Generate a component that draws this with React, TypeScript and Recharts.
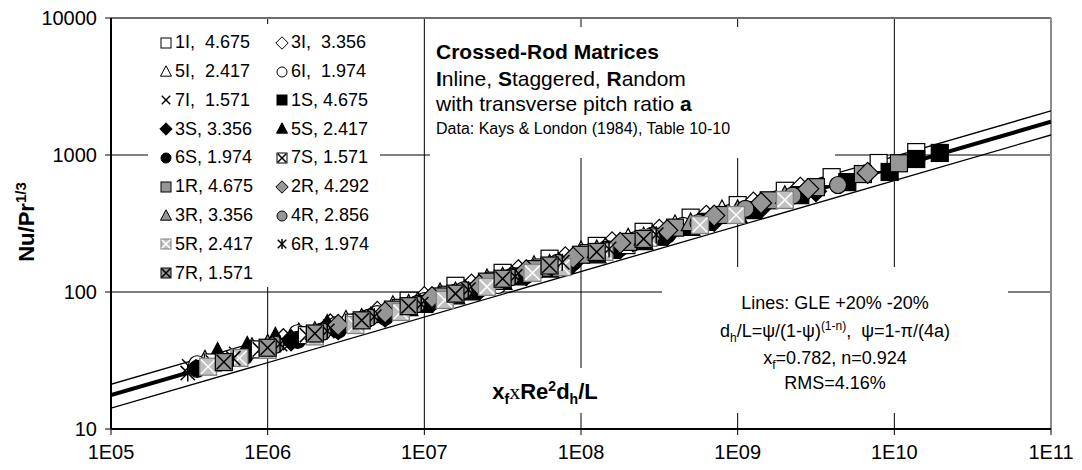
import React from "react";
import {
  ScatterChart,
  Scatter,
  XAxis,
  YAxis,
  CartesianGrid,
  ReferenceLine,
} from "recharts";

const FONT = '"Liberation Sans", Arial, sans-serif';
const GRAY = "#969696";
const LIGHT = "#c0c0c0";

const X_TICKS = [1e5, 1e6, 1e7, 1e8, 1e9, 1e10, 1e11];
const Y_TICKS = [10, 100, 1000, 10000];

// GLE curve and the +20% / -20% band, read at both ends of the x axis
const LINE_X = [1e5, 1e11];
const GLE_Y = [17.7, 1750];
const PLUS_Y = [21.2, 2100];
const MINUS_Y = [14.2, 1400];

// Inline
const x1I = [7.94e6, 1.58e7, 3.16e7, 6.3e7, 1.26e8, 2.51e8, 5.01e8, 1.0e9, 2.0e9, 3.98e9, 7.94e9, 1.38e10];
const y1I = [86.4, 111, 138, 175, 217, 275, 349, 431, 548, 689, 874, 1050];
const x3I = [1.26e6, 2.51e6, 5.01e6, 1.0e7, 2.0e7, 3.98e7, 7.94e7, 1.58e8, 3.16e8, 6.3e8, 1.26e9, 2.51e9];
const y3I = [45.2, 57.9, 71.6, 91.7, 113, 144, 179, 230, 284, 360, 449, 576];
const x5I = [3.98e5, 7.94e5, 1.58e6, 3.16e6, 6.3e6, 1.26e7, 2.51e7, 5.01e7, 1.0e8, 2.0e8, 3.98e8, 7.94e8];
const y5I = [31.4, 38.8, 49.7, 61.4, 78.7, 97.2, 123, 154, 197, 244, 306, 393];
const x6I = [3.55e5, 7.94e5, 1.55e6, 2.75e6, 5.01e6, 1.0e7, 1.58e7, 2.95e7, 5.62e7, 1.12e8, 2.24e8, 4.47e8];
const y6I = [29.7, 38.1, 50, 57.4, 69, 85.9, 99.2, 112.5, 151, 192, 239, 304];
const x7I = [3.16e5, 6.3e5, 1.26e6, 2.51e6, 5.01e6, 1.0e7, 2.0e7, 3.98e7, 7.94e7, 1.58e8, 3.16e8];
const y7I = [28.6, 35.3, 43.6, 55.8, 69, 88.4, 109, 139, 173, 219, 274];

// Staggered
const x1S = [1.0e7, 2.0e7, 3.98e7, 7.94e7, 1.58e8, 3.16e8, 6.3e8, 1.26e9, 2.51e9, 5.01e9, 9.33e9, 1.38e10, 1.95e10];
const y1S = [81.9, 101, 130, 158, 203, 253, 325, 396, 509, 634, 752, 935, 1035];
const x3S = [1.41e6, 2.82e6, 5.62e6, 1.12e7, 2.24e7, 4.47e7, 8.91e7, 1.78e8, 3.55e8, 7.08e8, 1.41e9, 3.16e9];
const y3S = [44.4, 53.7, 66.2, 84.2, 104, 133, 164, 209, 260, 331, 412, 544];
const x5S = [4.79e5, 7.41e5, 1.12e6, 2.4e6, 3.98e6, 7.94e6, 1.58e7, 3.16e7, 6.3e7, 1.26e8, 2.51e8, 5.01e8, 1.0e9];
const y5S = [35.9, 39.7, 46.2, 57.4, 63.3, 75.8, 92.5, 118, 145, 184, 230, 292, 363];
const x6S = [3.55e5, 7.08e5, 1.55e6, 2.82e6, 5.62e6, 1.12e7, 2.24e7, 4.47e7, 8.91e7, 1.78e8, 3.55e8];
const y6S = [27.5, 33.9, 44.7, 53.2, 66.2, 85.0, 105, 133, 166, 211, 263];
const x7S = [4.47e5, 8.91e5, 1.78e6, 3.55e6, 7.08e6, 1.41e7, 2.82e7, 5.62e7, 1.12e8, 1.95e8];
const y7S = [30.6, 38.1, 48.4, 59.7, 76.6, 95.5, 121, 151, 192, 220];

// Random
const x1R = [6.3e6, 1.26e7, 2.51e7, 5.01e7, 1.0e8, 2.0e8, 3.98e8, 7.94e8, 1.58e9, 3.16e9, 6.3e9, 1.07e10];
const y1R = [74.4, 92.8, 119, 147, 187, 232, 295, 365, 467, 583, 726, 870];
const x2R = [2.82e6, 5.62e6, 1.12e7, 2.24e7, 4.47e7, 8.91e7, 1.78e8, 3.55e8, 7.08e8, 1.41e9, 2.82e9, 6.76e9];
const y2R = [57.5, 71.0, 91.8, 112, 144, 178, 228, 282, 361, 446, 566, 740];
const x3R = [1.0e6, 2.0e6, 3.98e6, 7.94e6, 1.58e7, 3.16e7, 6.3e7, 1.26e8, 2.51e8, 5.01e8, 1.0e9, 2.0e9];
const y3R = [41.1, 50.8, 63.3, 80.4, 99.2, 127, 157, 201, 249, 316, 394, 500];
const x4R = [1.12e6, 2.24e6, 4.47e6, 8.91e6, 1.78e7, 3.55e7, 7.08e7, 1.41e8, 2.82e8, 5.62e8, 1.12e9, 2.24e9, 4.37e9];
const y4R = [41.2, 51.3, 65.1, 81.2, 103, 128, 163, 201, 256, 319, 405, 505, 604];
const x5R = [4.17e5, 6.6e5, 1.0e6, 2.0e6, 3.63e6, 7.08e6, 1.35e7, 2.51e7, 4.9e7, 7.59e7, 1.41e8, 2.69e8, 5.75e8, 9.77e8, 2.0e9];
const y5R = [28.5, 33.0, 37.8, 47.4, 57.4, 71.5, 87.5, 109, 138, 152, 196, 248, 308, 365, 470];
const x6R = [3.09e5, 6.03e5, 1.2e6, 2.4e6, 4.79e6, 9.55e6, 1.91e7, 3.8e7, 7.59e7, 1.51e8, 3.02e8];
const y6R = [25.6, 32.8, 41.7, 51.9, 66.0, 81.4, 104, 130, 165, 206, 262];
const x7R = [5.25e5, 1.0e6, 2.0e6, 3.98e6, 7.94e6, 1.58e7, 3.16e7, 6.3e7, 1.26e8, 2.51e8];
const y7R = [30.8, 39.2, 49.8, 62.1, 78.8, 97.3, 125, 156, 196, 244];

type Kind = "square" | "diamond" | "triangle" | "circle" | "x" | "sqx" | "star";

interface SeriesDef {
  label: string;
  kind: Kind;
  fill: string;
  stroke: string;
  cross?: string;
  xs: number[];
  ys: number[];
}

const SERIES: SeriesDef[] = [
  { label: "1I,  4.675", kind: "square", fill: "#fff", stroke: "#000", xs: x1I, ys: y1I },
  { label: "3I,  3.356", kind: "diamond", fill: "#fff", stroke: "#000", xs: x3I, ys: y3I },
  { label: "5I,  2.417", kind: "triangle", fill: "#fff", stroke: "#000", xs: x5I, ys: y5I },
  { label: "6I,  1.974", kind: "circle", fill: "#fff", stroke: "#000", xs: x6I, ys: y6I },
  { label: "7I,  1.571", kind: "x", fill: "none", stroke: "#000", xs: x7I, ys: y7I },
  { label: "1S, 4.675", kind: "square", fill: "#000", stroke: "#000", xs: x1S, ys: y1S },
  { label: "3S, 3.356", kind: "diamond", fill: "#000", stroke: "#000", xs: x3S, ys: y3S },
  { label: "5S, 2.417", kind: "triangle", fill: "#000", stroke: "#000", xs: x5S, ys: y5S },
  { label: "6S, 1.974", kind: "circle", fill: "#000", stroke: "#000", xs: x6S, ys: y6S },
  { label: "7S, 1.571", kind: "sqx", fill: "#fff", stroke: "#000", cross: "#000", xs: x7S, ys: y7S },
  { label: "1R, 4.675", kind: "square", fill: GRAY, stroke: "#000", xs: x1R, ys: y1R },
  { label: "2R, 4.292", kind: "diamond", fill: GRAY, stroke: "#000", xs: x2R, ys: y2R },
  { label: "3R, 3.356", kind: "triangle", fill: GRAY, stroke: "#000", xs: x3R, ys: y3R },
  { label: "4R, 2.856", kind: "circle", fill: GRAY, stroke: "#000", xs: x4R, ys: y4R },
  { label: "5R, 2.417", kind: "sqx", fill: LIGHT, stroke: "#808080", cross: "#fff", xs: x5R, ys: y5R },
  { label: "6R, 1.974", kind: "star", fill: "none", stroke: "#000", xs: x6R, ys: y6R },
  { label: "7R, 1.571", kind: "sqx", fill: GRAY, stroke: "#000", cross: "#000", xs: x7R, ys: y7R },
];

const toPoints = (xs: number[], ys: number[]) => xs.map((x, i) => ({ x, y: ys[i] }));

interface MarkProps {
  kind: Kind;
  cx: number;
  cy: number;
  s: number;
  fill: string;
  stroke: string;
  cross?: string;
  sw?: number;
}

function Mark({ kind, cx, cy, s, fill, stroke, cross, sw = 1.2 }: MarkProps) {
  const h = s / 2;
  if (kind === "square") {
    return <rect x={cx - h} y={cy - h} width={s} height={s} fill={fill} stroke={stroke} strokeWidth={sw} />;
  }
  if (kind === "diamond") {
    const r = s * 0.62;
    return (
      <polygon
        points={`${cx},${cy - r} ${cx + r},${cy} ${cx},${cy + r} ${cx - r},${cy}`}
        fill={fill}
        stroke={stroke}
        strokeWidth={sw}
      />
    );
  }
  if (kind === "triangle") {
    const w = s * 1.1;
    const t = s * 0.62;
    const b = s * 0.42;
    return (
      <polygon
        points={`${cx},${cy - t} ${cx + w / 2},${cy + b} ${cx - w / 2},${cy + b}`}
        fill={fill}
        stroke={stroke}
        strokeWidth={sw}
      />
    );
  }
  if (kind === "circle") {
    return <circle cx={cx} cy={cy} r={h} fill={fill} stroke={stroke} strokeWidth={sw} />;
  }
  const k = h * 0.85;
  const xLines = (
    <>
      <line x1={cx - k} y1={cy - k} x2={cx + k} y2={cy + k} stroke={cross || stroke} strokeWidth={1.5} />
      <line x1={cx - k} y1={cy + k} x2={cx + k} y2={cy - k} stroke={cross || stroke} strokeWidth={1.5} />
    </>
  );
  if (kind === "x") return <g>{xLines}</g>;
  if (kind === "star") {
    return (
      <g>
        {xLines}
        <line x1={cx} y1={cy - h} x2={cx} y2={cy + h} stroke={stroke} strokeWidth={1.5} />
      </g>
    );
  }
  // square with a cross
  return (
    <g>
      <rect x={cx - h} y={cy - h} width={s} height={s} fill={fill} stroke={stroke} strokeWidth={sw} />
      {xLines}
    </g>
  );
}

const fmtX = (v: number) => "1E" + String(Math.round(Math.log10(v))).padStart(2, "0");

const box = (left: number, top: number, width: number, height: number): React.CSSProperties => ({
  position: "absolute",
  left,
  top,
  width,
  height,
  background: "#fff",
});

export default function App() {
  const hidden = () => <g />;
  return (
    <div style={{ position: "absolute", left: 0, top: 0, width: 1082, height: 470, background: "#fff", fontFamily: FONT, color: "#000" }}>
      <ScatterChart width={1082} height={470} margin={{ top: 18, right: 31, bottom: 11, left: 0 }}>
        <CartesianGrid stroke="#000" strokeWidth={1} />
        <XAxis
          type="number"
          dataKey="x"
          scale="log"
          domain={[1e5, 1e11]}
          allowDataOverflow
          ticks={X_TICKS}
          interval={0}
          tickFormatter={fmtX}
          height={30}
          axisLine={{ stroke: "#000", strokeWidth: 2 }}
          tickLine={{ stroke: "#000" }}
          tickSize={6}
          tickMargin={10}
          tick={{ fill: "#000", fontSize: 20, fontFamily: FONT }}
        />
        <YAxis
          type="number"
          dataKey="y"
          scale="log"
          domain={[10, 10000]}
          allowDataOverflow
          ticks={Y_TICKS}
          interval={0}
          width={111}
          axisLine={{ stroke: "#000", strokeWidth: 2 }}
          tickLine={{ stroke: "#000" }}
          tickSize={6}
          tickMargin={8}
          tick={{ fill: "#000", fontSize: 20, fontFamily: FONT }}
        />
        <ReferenceLine y={10000} stroke="#6e6e6e" strokeWidth={2} />
        <ReferenceLine x={1e11} stroke="#8c8c8c" strokeWidth={2} />

        <Scatter data={toPoints(LINE_X, PLUS_Y)} line={{ stroke: "#000", strokeWidth: 1.3 }} shape={hidden} isAnimationActive={false} />
        <Scatter data={toPoints(LINE_X, MINUS_Y)} line={{ stroke: "#000", strokeWidth: 1.3 }} shape={hidden} isAnimationActive={false} />
        <Scatter data={toPoints(LINE_X, GLE_Y)} line={{ stroke: "#000", strokeWidth: 4 }} shape={hidden} isAnimationActive={false} />

        {SERIES.map((s) => (
          <Scatter
            key={s.label}
            data={toPoints(s.xs, s.ys)}
            isAnimationActive={false}
            shape={(p: any) => (
              <Mark kind={s.kind} cx={p.cx} cy={p.cy} s={17} fill={s.fill} stroke={s.stroke} cross={s.cross} />
            )}
          />
        ))}
      </ScatterChart>

      {/* y axis title */}
      <div
        style={{
          position: "absolute",
          left: -73,
          top: 207,
          width: 200,
          height: 30,
          lineHeight: "30px",
          textAlign: "center",
          transform: "rotate(-90deg)",
          fontSize: 22,
          fontWeight: "bold",
        }}
      >
        Nu/Pr<sup style={{ fontSize: 15, lineHeight: 0 }}>1/3</sup>
      </div>

      {/* legend */}
      <div style={box(148, 24, 232, 263)}>
        {SERIES.map((s, i) => {
          const col = i % 2;
          const row = Math.floor(i / 2);
          const cy = 18.7 + row * 28.8;
          return (
            <div key={s.label} style={{ position: "absolute", left: col === 0 ? 11 : 127, top: cy - 12, height: 24, display: "flex", alignItems: "center" }}>
              <svg width={14} height={14} style={{ marginRight: 2 }}>
                <Mark kind={s.kind} cx={7} cy={7} s={10} fill={s.fill} stroke={s.stroke} cross={s.cross} sw={1} />
              </svg>
              <span style={{ fontSize: 18, whiteSpace: "pre" }}>{s.label}</span>
            </div>
          );
        })}
      </div>

      {/* title block */}
      <div style={box(430, 27, 405, 131)}>
        <div style={{ position: "absolute", left: 6, top: 13, fontSize: 21, fontWeight: "bold", whiteSpace: "pre" }}>Crossed-Rod Matrices</div>
        <div style={{ position: "absolute", left: 6, top: 40, fontSize: 21, whiteSpace: "pre" }}>
          <b>I</b>nline, <b>S</b>taggered, <b>R</b>andom
        </div>
        <div style={{ position: "absolute", left: 6, top: 65, fontSize: 21, whiteSpace: "pre" }}>
          with transverse pitch ratio <b>a</b>
        </div>
        <div style={{ position: "absolute", left: 6, top: 93, fontSize: 16, whiteSpace: "pre" }}>
          Data: Kays &amp; London (1984), Table 10-10
        </div>
      </div>

      {/* correlation notes */}
      <div style={box(662, 267, 346, 146)}>
        {[
          <>Lines: GLE +20% -20%</>,
          <>
            d<sub style={{ fontSize: 12, lineHeight: 0 }}>h</sub>/L=ψ/(1-ψ)<sup style={{ fontSize: 12, lineHeight: 0 }}>(1-n)</sup>,  ψ=1-π/(4a)
          </>,
          <>
            x<sub style={{ fontSize: 12, lineHeight: 0 }}>f</sub>=0.782, n=0.924
          </>,
          <>RMS=4.16%</>,
        ].map((t, i) => (
          <div
            key={i}
            style={{
              position: "absolute",
              left: 0,
              width: 346,
              top: [36, 64, 91, 116][i] - 12,
              height: 24,
              lineHeight: "24px",
              textAlign: "center",
              fontSize: 18,
              whiteSpace: "pre",
            }}
          >
            {t}
          </div>
        ))}
      </div>

      {/* x axis title */}
      <div style={box(480, 368, 130, 45)}>
        <div style={{ position: "absolute", left: 0, top: 9, width: 130, height: 30, lineHeight: "30px", textAlign: "center", fontSize: 22, fontWeight: "bold", whiteSpace: "pre" }}>
          x<sub style={{ fontSize: 14, lineHeight: 0 }}>f</sub>
          <span style={{ fontFamily: '"Liberation Serif", serif', fontWeight: "normal" }}>x</span>Re
          <sup style={{ fontSize: 14, lineHeight: 0 }}>2</sup>d<sub style={{ fontSize: 14, lineHeight: 0 }}>h</sub>/L
        </div>
      </div>
    </div>
  );
}
